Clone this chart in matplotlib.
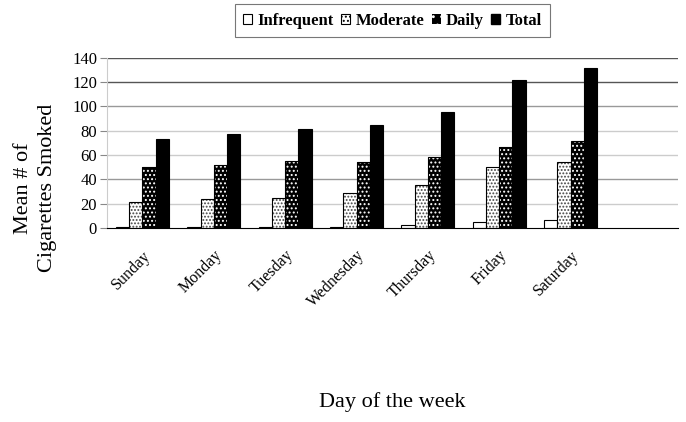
import numpy as np
import matplotlib
matplotlib.use("Agg")
import matplotlib.pyplot as plt
from matplotlib.patches import Patch

days = ["Sunday", "Monday", "Tuesday", "Wednesday", "Thursday", "Friday", "Saturday", ""]
infrequent = [0.5, 0.5, 1, 1, 2, 4.5, 6.5]
moderate = [21.5, 24, 25, 28.5, 35, 50, 54]
daily = [50, 51.5, 55, 54.5, 58, 66.5, 71.5]
total = [73, 77.5, 81.5, 85, 95.5, 122, 132]
series_names = ["Infrequent", "Moderate", "Daily", "Total"]

plt.rcParams["font.family"] = ["Liberation Serif", "DejaVu Serif"]
plt.rcParams["hatch.linewidth"] = 0.9

fig = plt.figure(figsize=(6.86, 4.22), dpi=100)
ax = fig.add_axes([0.1557, 0.46, 0.832, 0.403])

x = np.arange(len(total))
w = 0.185

ax.bar(x - 1.5 * w, infrequent, w, facecolor="white", edgecolor="black", lw=0.8)
ax.bar(x - 0.5 * w, moderate, w, facecolor="white", edgecolor="#444444", lw=0, hatch=".....")
ax.bar(x - 0.5 * w, moderate, w, facecolor="none", edgecolor="black", lw=0.8)
# white dots on black for Daily
ax.bar(x + 0.5 * w, daily, w, facecolor="black", edgecolor="white", lw=0, hatch="....")
ax.bar(x + 0.5 * w, daily, w, facecolor="none", edgecolor="black", lw=0.8)
ax.bar(x + 1.5 * w, total, w, facecolor="black", edgecolor="black", lw=0.8)

ax.set_xlim(-0.5, len(days) - 0.5)
ax.set_ylim(0, 140)
ax.set_yticks(range(0, 141, 20))
ax.tick_params(axis="y", length=5, color="#888888", labelsize=12, pad=2)
ax.tick_params(axis="x", length=0, labelsize=11.5, pad=14)
ax.set_xticks(np.arange(len(days)))
ax.set_xticklabels(days, rotation=45, ha="right", rotation_mode="anchor")

grid_colors = ["#555555", "#cccccc", "#999999", "#cccccc", "#cccccc", "#999999", "#555555", "#555555"]
for v, c in zip(range(0, 141, 20), grid_colors):
    if v > 0:
        ax.axhline(v, color=c, lw=1, zorder=0)
ax.set_axisbelow(True)

for s in ["top", "right"]:
    ax.spines[s].set_visible(False)
ax.spines["left"].set_color("#cccccc")
ax.spines["bottom"].set_color("black")

fig.text(0.052, 0.555, "Mean # of\nCigarettes Smoked", fontsize=16, rotation=90,
         ha="center", va="center", multialignment="center", linespacing=1.35)
fig.text(0.572, 0.035, "Day of the week", fontsize=16, ha="center")

handles = [
    Patch(facecolor="white", edgecolor="black", lw=0.8),
    Patch(facecolor="white", edgecolor="black", lw=0.8, hatch="...."),
    Patch(facecolor="black", edgecolor="white", lw=0, hatch=".."),
    Patch(facecolor="black", edgecolor="black"),
]
leg = fig.legend(handles, series_names, loc="upper center", bbox_to_anchor=(0.572, 0.99),
                 ncol=4, frameon=True, fancybox=False, edgecolor="#555555",
                 prop={"weight": "bold", "size": 12}, handlelength=0.55, handleheight=0.55,
                 handletextpad=0.3, columnspacing=0.45, borderpad=0.5, borderaxespad=0)
leg.get_frame().set_linewidth(0.8)

fig.savefig("out.png", dpi=100)
